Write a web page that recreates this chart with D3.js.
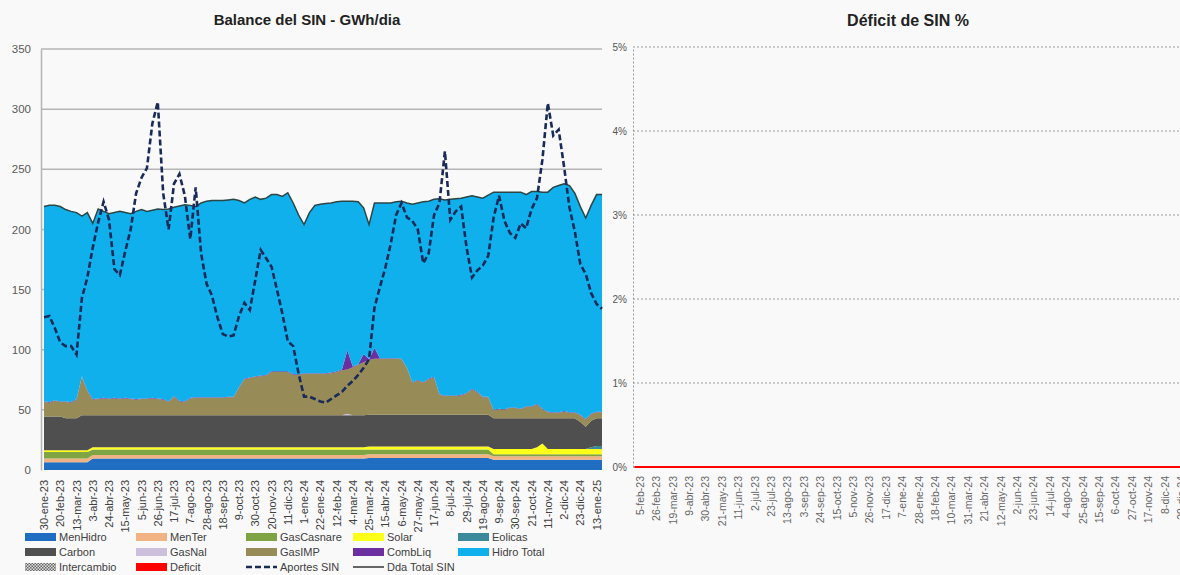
<!DOCTYPE html>
<html><head><meta charset="utf-8">
<script src="https://cdn.jsdelivr.net/npm/d3@7"></script>
<style>
body{margin:0;background:#f9f9f9;}
svg{display:block;font-family:"Liberation Sans",Arial,sans-serif;}
</style>
</head><body>
<svg id="c" width="1180" height="575"></svg>
<script>
// ---------- DATA (weekly, 30-ene-23 .. 20-ene-25) ----------
const leftTickLabels = ["30-ene-23","20-feb-23","13-mar-23","3-abr-23","24-abr-23","15-may-23","5-jun-23","26-jun-23","17-jul-23","7-ago-23","28-ago-23","18-sep-23","9-oct-23","30-oct-23","20-nov-23","11-dic-23","1-ene-24","22-ene-24","12-feb-24","4-mar-24","25-mar-24","15-abr-24","6-may-24","27-may-24","17-jun-24","8-jul-24","29-jul-24","19-ago-24","9-sep-24","30-sep-24","21-oct-24","11-nov-24","2-dic-24","23-dic-24","13-ene-25"];
const rightTickLabels = ["5-feb-23","26-feb-23","19-mar-23","9-abr-23","30-abr-23","21-may-23","11-jun-23","2-jul-23","23-jul-23","13-ago-23","3-sep-23","24-sep-23","15-oct-23","5-nov-23","26-nov-23","17-dic-23","7-ene-24","28-ene-24","18-feb-24","10-mar-24","31-mar-24","21-abr-24","12-may-24","2-jun-24","23-jun-24","14-jul-24","4-ago-24","25-ago-24","15-sep-24","6-oct-24","27-oct-24","17-nov-24","8-dic-24","29-dic-24"];
const leftYTicks = [0,50,100,150,200,250,300,350];
const rightYTicks = [0,0.01,0.02,0.03,0.04,0.05];

const menHidro = [6.5,6.5,6.5,6.5,6.5,6.5,6.5,6.5,6.5,9.5,
 9.5,9.5,9.5,9.5,9.5,9.5,9.5,9.5,9.5,9.5,
 9.5,9.5,9.5,9.5,9.5,9.5,9.5,9.5,9.5,9.5,
 9.5,9.5,9.5,9.5,9.5,9.5,9.5,9.5,9.5,9.5,
 9.5,9.5,9.5,9.5,9.5,9.5,9.5,9.5,9.5,9.5,
 9.5,9.5,9.5,9.5,9.5,9.5,9.5,9.5,9.5,9.5,
 10,10,10,10,10,10,10,10,10,10,
 10,10,10,10,10,10,10,10,10,10,
 10,10,10,8.5,8.5,8.5,8.5,8.5,8.5,8.5,
 8.5,8.5,8.5,8.5,8.5,8.5,8.5,8.5,8.5,8.5,
 8.5,8.5,8.5,8.5];
const menTer = [3,3,3,3,3,3,3,3,3,3, 3,3,3,3,3,3,3,3,3,3, 3,3,3,3,3,3,3,3,3,3, 3,3,3,3,3,3,3,3,3,3,
 3,3,3,3,3,3,3,3,3,3, 3,3,3,3,3,3,3,3,3,3, 3,3,3,3,3,3,3,3,3,3, 3,3,3,3,3,3,3,3,3,3,
 3,3,3,3,3,3,3,3,3,3, 3,3,3,3,3,3,3,3,3,3, 3,3,3,3];
const gasCasnare = [5.5,5.5,5.5,5.5,5.5,5.5,5.5,5.5,5.5,4.5,
 4.5,4.5,4.5,4.5,4.5,4.5,4.5,4.5,4.5,4.5,
 4.5,4.5,4.5,4.5,4.5,4.5,4.5,4.5,4.5,4.5,
 4.5,4.5,4.5,4.5,4.5,4.5,4.5,4.5,4.5,4.5,
 4.5,4.5,4.5,4.5,4.5,4.5,4.5,4.5,4.5,4.5,
 4.5,4.5,4.5,4.5,4.5,4.5,4.5,4.5,4.5,4.5,
 4,4,4,4,4,4,4,4,4,4,
 4,4,4,4,4,4,4,4,4,4,
 4,4,4,1.5,1.5,1.5,1.5,1.5,1.5,1.5,
 1.5,1.5,1.5,1.5,1.5,1.5,1.5,1.5,1.5,1.5,
 1.5,1.5,1.5,1.5];
const solar = [1.5,1.5,1.5,1.5,1.5,1.5,1.5,1.5,1.5,2,
 2,2,2,2,2,2,2,2,2,2, 2,2,2,2,2,2,2,2,2,2, 2,2,2,2,2,2,2,2,2,2,
 2,2,2,2,2,2,2,2,2,2, 2,2,2,2,2,2,2,2,2,2,
 2.5,2.5,2.5,2.5,2.5,2.5,2.5,2.5,2.5,2.5,
 2.5,2.5,2.5,2.5,2.5,2.5,2.5,2.5,2.5,2.5,
 2.5,2.5,2.5,4.5,4.5,4.5,4.5,4.5,4.5,4.5,
 4.5,6,9,4.5,4.5,4.5,4.5,4.5,4.5,4.5,
 4.5,4.5,4.5,4.5];
const eolicas = [0,0,0,0,0,0,0,0,0,0, 0,0,0,0,0,0,0,0,0,0, 0,0,0,0,0,0,0,0,0,0, 0,0,0,0,0,0,0,0,0,0,
 0,0,0,0,0,0,0,0,0,0, 0,0,0,0,0,0,0,0,0,0, 0,0,0,0,0,0,0,0,0,0, 0,0,0,0,0,0,0,0,0,0,
 0,0,0,0,0,0,0,0,0,0, 0,0,0,0,0,0,0,0,0,0, 0,1.5,2.5,2.5];
const carbon = [28,28,28,28,26.5,26.5,26.5,29,29,26.5,
 26.5,26.5,26.5,26.5,26.5,26.5,26.5,26.5,26.5,26.5,
 26.5,26.5,26.5,26.5,26.5,26.5,26.5,26.5,26.5,26.5,
 26.5,26.5,26.5,26.5,26.5,26.5,26.5,26.5,26.5,26.5,
 26.5,26.5,26.5,26.5,26.5,26.5,26.5,26.5,26.5,26.5,
 26.5,26.5,26.5,26.5,26.5,26.5,26.5,26.5,26.5,26.5,
 26.5,26.5,26.5,26.5,26.5,26.5,26.5,26.5,26.5,26.5,
 26.5,26.5,26.5,26.5,26.5,26.5,26.5,26.5,26.5,26.5,
 26.5,26.5,26.5,25.5,25.5,25.5,25.5,25.5,25.5,25.5,
 25.5,24,21,25.5,25.5,25.5,25.5,25.5,25.5,22.5,
 18.5,22,23,23];
const gasNal = [0,0,0,0,0,0,0,0,0,0, 0,0,0,0,0,0,0,0,0,0, 0,0,0,0,0,0,0,0,0,0, 0,0,0,0,0,0,0,0,0,0,
 0,0,0,0,0,0,0,0,0,0, 0,0,0,0,0,0,1.2,0,0,0, 0,0,0,0,0,0,0,0,0,0, 0,0,0,0,0,0,0,0,0,0,
 0,0,0,0,0,0,0,0,0,0, 0,0,0,0,0,0,0,0,0,0, 0,0,0,0];
const gasIMP = [12,11.5,13,12,13.5,13,15.5,32,20,13,
 13.5,14,13.5,14,13.5,14,13.5,13,13.5,13.5,
 14,13.5,13,11,15.5,11.5,11,14,14.5,14.5,
 14.5,14.5,14.5,14.5,15,15,23,30,31,32,
 32.5,33,36,36,36,36,33.5,33.5,34.5,34.5,
 34.5,34.5,34.5,35,36,37.5,36.8,40,42,44,
 45.5,46.5,46.5,46.5,46.5,46.5,46,38.5,26.5,28.5,
 26.5,29.5,31,16.5,15.5,15.5,15.5,16,17.5,21,
 18.5,14.5,14.5,6.5,7.5,7,8.5,8.5,7.5,9.5,
 9.5,11.5,7.5,5,4.5,4.5,5.5,4.5,4.5,5.5,
 6,5.5,5,5];
const combLiq = [0.5,0.5,0.5,0.5,0.5,0.5,0.5,0.5,0.5,0.5, 0.5,0.5,0.5,0.5,0.5,0.5,0.5,0.5,0.5,0.5,
 0.5,0.5,0.5,0.5,0.5,0.5,0.5,0.5,0.5,0.5, 0.5,0.5,0.5,0.5,0.5,0.5,0.5,0.5,0.5,0.5,
 0.5,0.5,0.5,0.5,0.5,0.5,0.5,0.5,0.5,0.5, 0.5,0.5,0.5,0.5,0.5,0.5,16,0.5,0.5,7,
 0.5,9,0.5,0.5,0.5,0.5,0.5,0.5,0.5,0.5, 0.5,0.5,0.5,0.5,0.5,0.5,0.5,0.5,0.5,0.5,
 0.5,0.5,0.5,0.5,0.5,0.5,0.5,0.5,0.5,0.5, 0.5,0.5,0.5,0.5,0.5,0.5,0.5,0.5,0.5,0.5,
 0.5,0.5,0.5,0.5];
const hidroTotal = [162,163.5,162,162,159.5,158.5,155,133,148,146,
 157.5,155,153.5,154,155.5,154,153.5,156,157,155.5,
 156,157.5,157.5,160,157,162,163.5,160,158.5,161.5,
 163,163.5,163.5,163.5,163.5,164,155,146,148,149,
 146.5,147,147,147,145.5,148.5,142.5,132.5,123.5,133.5,
 139.5,140.5,141,141,141,140,124,137.5,135,121.5,
 112,120.5,129,129,129,130,131,137,148,147,
 150,147.5,147.5,162.5,162.5,163,163.5,163.5,163,160.5,
 162,165,167.5,181,180,180.5,179,179,180,176,
 178.5,176.5,180,182.5,187,188.5,189,188.5,182,173,
 167,173,180.5,180.5];
const ddaTotal = [219,220,220,219,216.5,215,214,211,214,205,
 217,215,213,214,215,214,213,215,216.5,215,
 216,217,216.5,217,218.5,219.5,220.5,220,219,222,
 223.5,224,224,224,224.5,225,224,222,225,227,
 225,226,229,229,227.5,230.5,222,212,204,214,
 220,221,221.5,222,223,223.5,223.5,223.5,223,218,
 204,222,222,222,222,223,223.5,222,221,222,
 223,223.5,225,225.5,224.5,225,225.5,226,227,228,
 227,226,228.5,231,231,231,231,231,231,229,
 231.5,231.5,231,231,235,236.5,238,236.5,230,219,
 209.5,220,229,229];
const aportesSIN = [127,128,118,106,103,103,96,143,160,185,
 206,223,208,167,162,182,200,230,243,251,
 288,306,230,200,238,246,228,192,235,180,
 155,145,127,113,111,112,128,139,133,158,
 183,176,169,150,130,107,103,80,61,61,
 59,57,56,59,62,65,70,74,79,85,
 92,135,152,168,188,212,222,210,207,200,
 172,180,212,222,265,208,215,219,185,160,
 166,170,178,210,228,207,197,193,205,201,
 217,226,258,305,278,283,252,218,198,171,
 163,147,138,134];
const deficitPct = [0,0,0,0,0,0,0,0,0,0, 0,0,0,0,0,0,0,0,0,0, 0,0,0,0,0,0,0,0,0,0, 0,0,0,0,0,0,0,0,0,0,
 0,0,0,0,0,0,0,0,0,0, 0,0,0,0,0,0,0,0,0,0, 0,0,0,0,0,0,0,0,0,0, 0,0,0,0,0,0,0,0,0,0,
 0,0,0,0,0,0,0,0,0,0, 0,0,0,0,0,0,0,0,0,0, 0,0,0];

const seriesKeys = ["MenHidro","MenTer","GasCasnare","Solar","Eolicas","Carbon","GasNal","GasIMP","CombLiq","Hidro Total"];
const seriesArrays = [menHidro,menTer,gasCasnare,solar,eolicas,carbon,gasNal,gasIMP,combLiq,hidroTotal];
const colors = {"MenHidro":"#1f6ec2","MenTer":"#f2b384","GasCasnare":"#7ea443","Solar":"#ffff1a","Eolicas":"#3a8a9c",
  "Carbon":"#4f4f4f","GasNal":"#cbbfdc","GasIMP":"#978c57","CombLiq":"#6c2fa0","Hidro Total":"#0fb0ec",
  "Deficit":"#ff0000","Aportes":"#1a2b5a","Dda":"#2c4545"};

// ---------- CHART ----------
const svg = d3.select("#c");
const rows = menHidro.map((_, i) => { const r = {i}; seriesKeys.forEach((k, j) => r[k] = seriesArrays[j][i]); return r; });

// left chart
const L = {x0: 41, x1: 603, y0: 470, y1: 50};
const xL = d3.scaleLinear().domain([0, 103]).range([44, 602]);
const yL = d3.scaleLinear().domain([0, 350]).range([L.y0, L.y1 - 1]);

const gGrid = svg.append("g");
leftYTicks.filter(t => t > 0).forEach(t => {
  gGrid.append("line").attr("x1", L.x0).attr("x2", L.x1 - 1).attr("y1", yL(t)).attr("y2", yL(t))
    .attr("stroke", "#b5b5b5").attr("stroke-width", 1.5);
});
const yAxisL = svg.append("g").attr("transform", `translate(${L.x0},0)`)
  .call(d3.axisLeft(yL).tickValues(leftYTicks).tickSize(0).tickPadding(10));
yAxisL.select(".domain").attr("stroke", "#b5b5b5").attr("stroke-width", 1.5);
yAxisL.selectAll("text").attr("font-size", 11.5).attr("fill", "#595959");

const stack = d3.stack().keys(seriesKeys);
const stacked = stack(rows);
const area = d3.area().x(d => xL(d.data.i)).y0(d => yL(d[0])).y1(d => yL(d[1]));
svg.append("g").selectAll("path").data(stacked).join("path")
  .attr("d", area).attr("fill", d => colors[d.key]);

// demand line
svg.append("path").datum(ddaTotal)
  .attr("d", d3.line().x((d, i) => xL(i)).y(d => yL(d)))
  .attr("fill", "none").attr("stroke", colors.Dda).attr("stroke-width", 1.5);
// aportes dashed
svg.append("path").datum(aportesSIN)
  .attr("d", d3.line().x((d, i) => xL(i)).y(d => yL(d)))
  .attr("fill", "none").attr("stroke", colors.Aportes).attr("stroke-width", 2.6)
  .attr("stroke-dasharray", "6,3");

// x axis labels left
const xAxisL = svg.append("g").attr("transform", `translate(0,${L.y0})`)
  .call(d3.axisBottom(xL).tickValues(leftTickLabels.map((_, k) => k * 3)).tickSize(0).tickFormat((d, k) => leftTickLabels[k]));
xAxisL.select(".domain").remove();
xAxisL.selectAll("text").attr("font-size", 11).attr("fill", "#404040")
  .attr("transform", "rotate(-90)").attr("text-anchor", "end").attr("dx", "-5").attr("dy", "0.32em").attr("y", 0).attr("x", -5);

svg.append("text").attr("x", 307).attr("y", 25).attr("text-anchor", "middle")
  .attr("font-size", 15).attr("font-weight", "bold").attr("fill", "#222").text("Balance del SIN - GWh/dia");

// right chart
const R = {x0: 633, y0: 467, y1: 47};
const xR = d3.scaleLinear().domain([0, 102]).range([634.5, 634.5 + 5.467 * 102]);
const yR = d3.scaleLinear().domain([0, 0.05]).range([R.y0, R.y1]);
rightYTicks.forEach(t => {
  svg.append("line").attr("x1", R.x0).attr("x2", 1180).attr("y1", yR(t)).attr("y2", yR(t))
    .attr("stroke", "#9a9a9a").attr("stroke-width", 1).attr("stroke-dasharray", "2,2");
});
const yAxisR = svg.append("g").attr("transform", `translate(${R.x0},0)`)
  .call(d3.axisLeft(yR).tickValues(rightYTicks).tickFormat(d3.format(".0%")).tickSize(0).tickPadding(6));
yAxisR.select(".domain").attr("stroke", "#9a9a9a").attr("stroke-dasharray", "2,2");
yAxisR.selectAll("text").attr("font-size", 10).attr("fill", "#555");

svg.append("path").datum(deficitPct)
  .attr("d", d3.line().x((d, i) => xR(i)).y(d => yR(d)))
  .attr("fill", "none").attr("stroke", colors.Deficit).attr("stroke-width", 2);

const xAxisR = svg.append("g").attr("transform", `translate(0,${R.y0 + 4})`)
  .call(d3.axisBottom(xR).tickValues(rightTickLabels.map((_, k) => k * 3 + 1)).tickSize(0).tickFormat((d, k) => rightTickLabels[k]));
xAxisR.select(".domain").remove();
xAxisR.selectAll("text").attr("font-size", 10.5).attr("fill", "#666")
  .attr("transform", "rotate(-90)").attr("text-anchor", "end").attr("dy", "0.32em").attr("y", 0).attr("x", -5);

svg.append("text").attr("x", 908).attr("y", 26).attr("text-anchor", "middle")
  .attr("font-size", 16).attr("font-weight", "bold").attr("fill", "#222").text("Déficit de SIN %");

// legend
const defs = svg.append("defs");
const pat = defs.append("pattern").attr("id", "hatch").attr("width", 3).attr("height", 3).attr("patternUnits", "userSpaceOnUse");
pat.append("rect").attr("width", 3).attr("height", 3).attr("fill", "#ddd");
pat.append("rect").attr("width", 1.5).attr("height", 1.5).attr("fill", "#666");
pat.append("rect").attr("x", 1.5).attr("y", 1.5).attr("width", 1.5).attr("height", 1.5).attr("fill", "#666");

const legendItems = [
  ["MenHidro", "fill", colors["MenHidro"]], ["MenTer", "fill", colors["MenTer"]], ["GasCasnare", "fill", colors["GasCasnare"]], ["Solar", "fill", colors["Solar"]], ["Eolicas", "fill", colors["Eolicas"]],
  ["Carbon", "fill", colors["Carbon"]], ["GasNal", "fill", colors["GasNal"]], ["GasIMP", "fill", colors["GasIMP"]], ["CombLiq", "fill", colors["CombLiq"]], ["Hidro Total", "fill", colors["Hidro Total"]],
  ["Intercambio", "pattern", "url(#hatch)"], ["Deficit", "fill", colors.Deficit], ["Aportes SIN", "dash", colors.Aportes], ["Dda Total SIN", "line", "#333"]
];
const colX = [25, 136, 246, 353, 458];
const rowY = [537, 552, 567];
legendItems.forEach((it, n) => {
  const cx = colX[n % 5], cy = rowY[Math.floor(n / 5)];
  const g = svg.append("g");
  if (it[1] === "fill" || it[1] === "pattern") {
    g.append("rect").attr("x", cx).attr("y", cy - 4).attr("width", 31).attr("height", 8).attr("fill", it[2]);
  } else if (it[1] === "dash") {
    g.append("line").attr("x1", cx).attr("x2", cx + 31).attr("y1", cy).attr("y2", cy).attr("stroke", it[2]).attr("stroke-width", 2.6).attr("stroke-dasharray", "6,3");
  } else {
    g.append("line").attr("x1", cx).attr("x2", cx + 31).attr("y1", cy).attr("y2", cy).attr("stroke", it[2]).attr("stroke-width", 1.5);
  }
  g.append("text").attr("x", cx + 34).attr("y", cy).attr("dy", "0.35em").attr("font-size", 11).attr("fill", "#404040").text(it[0]);
});
</script>
</body></html>
